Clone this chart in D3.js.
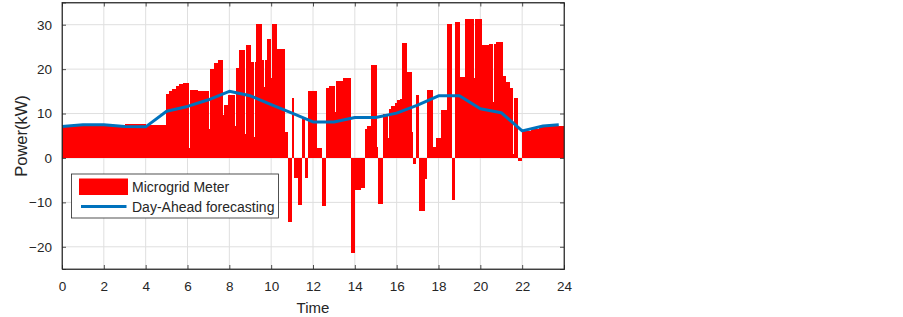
<!DOCTYPE html>
<html>
<head>
<meta charset="utf-8">
<script src="https://cdn.jsdelivr.net/npm/d3@7"></script>
<style>
  body { margin: 0; background: #fff; }
  svg text { font-family: "Liberation Sans", Arial, sans-serif; fill: #262626; }
</style>
</head>
<body>
<div id="chart"></div>
<script>
// --------------------------------------
//  Data
// --------------------------------------

// meter reading: step start (hour) and value (kW), each step lasts to the next start
const meterStart = [
  0, 1, 3, 4, 4.95, 5.11, 5.27, 5.43, 5.59, 5.78, 6.05, 6.10, 6.5, 7.02, 7.07,
  7.28, 7.44, 7.70, 7.75, 7.92, 8.25, 8.30, 8.48, 8.73, 8.78, 9.03, 9.18, 9.23,
  9.26, 9.58, 9.65, 9.70, 9.78, 9.99, 10.04, 10.29, 10.66, 10.82, 10.98, 11.10,
  11.27, 11.46, 11.62, 11.78, 12.2, 12.42, 12.62, 12.78, 13.04, 13.09, 13.45,
  13.8, 14.0, 14.3, 14.5, 14.6, 14.77, 15.07, 15.12, 15.36, 15.57, 15.62, 15.75,
  15.9, 16.0, 16.16, 16.24, 16.5, 16.71, 16.8, 16.92, 17.08, 17.35, 17.45, 17.72,
  17.9, 18.1, 18.42, 18.63, 18.8, 19.04, 19.26, 19.69, 19.74, 20.06, 20.4, 20.59,
  20.64, 20.76, 21.08, 21.24, 21.4, 21.57, 21.62, 21.8, 22.0, 22.4, 22.8, 23.2
];
const meterValue = [
  7.2, 7.4, 7.6, 7.5, 14.3, 15.0, 15.6, 16.1, 16.6, 16.8, 2.2, 15.2, 15.0, 6.5, 20.0,
  21.4, 22.0, 9.6, 11.9, 14.1, 7.2, 20.2, 24.2, 5.5, 25.5, 21.5, 4.8, 21.5,
  30.2, 22.1, 16.0, 22.1, 26.7, 17.9, 30.2, 24.5, 5.8, -14.5, 13.5, -4.4,
  -10.5, 8.7, -4.6, 15.1, 2.2, -10.8, 15.8, 16.2, 10.4, 17.4, 17.9,
  -21.4, -7.3, -6.7, 6.5, 7.3, 21.0, 2.5, -10.3, 10.0, 4.5, 11.1, 11.7,
  12.4, 13.0, 13.3, 25.9, 19.3, 5.9, -1.3, 14.1, -11.9, -4.8, 15.4, 2.5,
  4.4, 10.8, 30.2, -9.4, 30.5, 18.2, 31.2, 17.9, 31.2, 25.5, 25.7, 12.6,
  25.7, 26.1, 18.4, 17.1, 15.8, 1.0, 13.6, -0.6, 6.1, 6.5, 6.9, 7.3
];
const dayEnd = 24;

// day-ahead forecast
const forecastHour = [0, 1, 2, 3, 4, 5, 6, 7, 8, 9, 10, 11, 12, 13, 14, 15, 16, 17, 18, 19, 20, 21, 22, 23, 23.75];
const forecastValue = [7.1, 7.5, 7.5, 7.1, 7.0, 10.5, 11.6, 13.1, 15.0, 14.0, 12.0, 10.1, 8.1, 8.1, 9.1, 9.1, 10.1, 11.9, 14.0, 14.0, 11.1, 10.2, 6.1, 7.2, 7.5];

const xTicks = [0, 2, 4, 6, 8, 10, 12, 14, 16, 18, 20, 22, 24];
const yTicks = [-20, -10, 0, 10, 20, 30];

const meter = meterStart.map((s, i) => ({
  start: s,
  end: i < meterStart.length - 1 ? meterStart[i + 1] : dayEnd,
  value: meterValue[i]
}));
const forecast = forecastHour.map((h, i) => ({hour: h, value: forecastValue[i]}));

// --------------------------------------
//  Margin and canvas
// --------------------------------------

const width = 903;
const height = 317;
const margin = {top: 2.5, right: 339, bottom: 48, left: 62};
const innerwidth = width - margin.left - margin.right;
const innerheight = height - margin.top - margin.bottom;

const svg = d3.select("#chart")
  .append("svg")
    .attr("width", width)
    .attr("height", height);

const inner = svg.append("g")
  .attr("transform", `translate(${margin.left}, ${margin.top})`);

// --------------------------------------
//  Scales
// --------------------------------------

const x = d3.scaleLinear().domain([0, 24]).range([0, innerwidth]);
const y = d3.scaleLinear().domain([-25, 35]).range([innerheight, 0]);

// --------------------------------------
//  Grid
// --------------------------------------

inner.append("g")
  .selectAll("line")
  .data(xTicks.slice(1, -1))
  .join("line")
    .attr("x1", d => x(d)).attr("x2", d => x(d))
    .attr("y1", 0).attr("y2", innerheight)
    .attr("stroke", "#dfdfdf")
    .attr("stroke-width", 1);

inner.append("g")
  .selectAll("line")
  .data(yTicks)
  .join("line")
    .attr("x1", 0).attr("x2", innerwidth)
    .attr("y1", d => y(d)).attr("y2", d => y(d))
    .attr("stroke", "#dfdfdf")
    .attr("stroke-width", 1);

// --------------------------------------
//  Data drawing
// --------------------------------------

inner.append("g")
  .attr("shape-rendering", "crispEdges")
  .selectAll("rect")
  .data(meter)
  .join("rect")
    .attr("x", d => x(d.start))
    .attr("width", d => x(d.end) - x(d.start))
    .attr("y", d => y(Math.max(0, d.value)))
    .attr("height", d => Math.abs(y(d.value) - y(0)))
    .attr("fill", "#ff0000");

const line = d3.line()
  .x(d => x(d.hour))
  .y(d => y(d.value));

inner.append("path")
  .datum(forecast)
  .attr("d", line)
  .attr("fill", "none")
  .attr("stroke", "#0072bd")
  .attr("stroke-width", 3)
  .attr("stroke-linejoin", "round");

// --------------------------------------
//  Axes
// --------------------------------------

const axisColor = "#262626";

inner.append("g")
  .attr("transform", `translate(0, ${innerheight})`)
  .call(d3.axisBottom(x).tickValues(xTicks).tickSize(-4).tickPadding(12))
  .call(g => g.selectAll("text").attr("font-size", 13.5).attr("fill", axisColor));

inner.append("g")
  .call(d3.axisTop(x).tickValues(xTicks).tickSize(-4).tickFormat(""));

inner.append("g")
  .call(d3.axisLeft(y).tickValues(yTicks).tickSize(-4).tickPadding(10))
  .call(g => g.selectAll("text").attr("font-size", 13.5).attr("fill", axisColor));

inner.append("g")
  .attr("transform", `translate(${innerwidth}, 0)`)
  .call(d3.axisRight(y).tickValues(yTicks).tickSize(-4).tickFormat(""));

inner.selectAll(".domain, .tick line")
  .attr("stroke", axisColor)
  .attr("stroke-width", 0.8);

inner.append("rect")
  .attr("width", innerwidth)
  .attr("height", innerheight)
  .attr("fill", "none")
  .attr("stroke", axisColor)
  .attr("stroke-width", 0.8);

svg.append("text")
  .attr("x", margin.left + innerwidth / 2)
  .attr("y", 313)
  .attr("text-anchor", "middle")
  .attr("font-size", 15)
  .text("Time");

svg.append("text")
  .attr("transform", `translate(27, 136) rotate(-90)`)
  .attr("text-anchor", "middle")
  .attr("font-size", 16.5)
  .text("Power(kW)");

// --------------------------------------
//  Legend
// --------------------------------------

const legend = svg.append("g").attr("transform", "translate(71.5, 174)");

legend.append("rect")
  .attr("width", 207).attr("height", 44)
  .attr("fill", "#fff")
  .attr("stroke", axisColor)
  .attr("stroke-width", 0.8);

legend.append("rect")
  .attr("x", 7.5).attr("y", 4.5)
  .attr("width", 49).attr("height", 16.5)
  .attr("fill", "#ff0000");

legend.append("line")
  .attr("x1", 9.5).attr("x2", 55)
  .attr("y1", 32.5).attr("y2", 32.5)
  .attr("stroke", "#0072bd")
  .attr("stroke-width", 3);

legend.append("text")
  .attr("x", 60.5).attr("y", 18)
  .attr("font-size", 14)
  .text("Microgrid Meter");

legend.append("text")
  .attr("x", 60.5).attr("y", 38)
  .attr("font-size", 14)
  .text("Day-Ahead forecasting");
</script>
</body>
</html>
